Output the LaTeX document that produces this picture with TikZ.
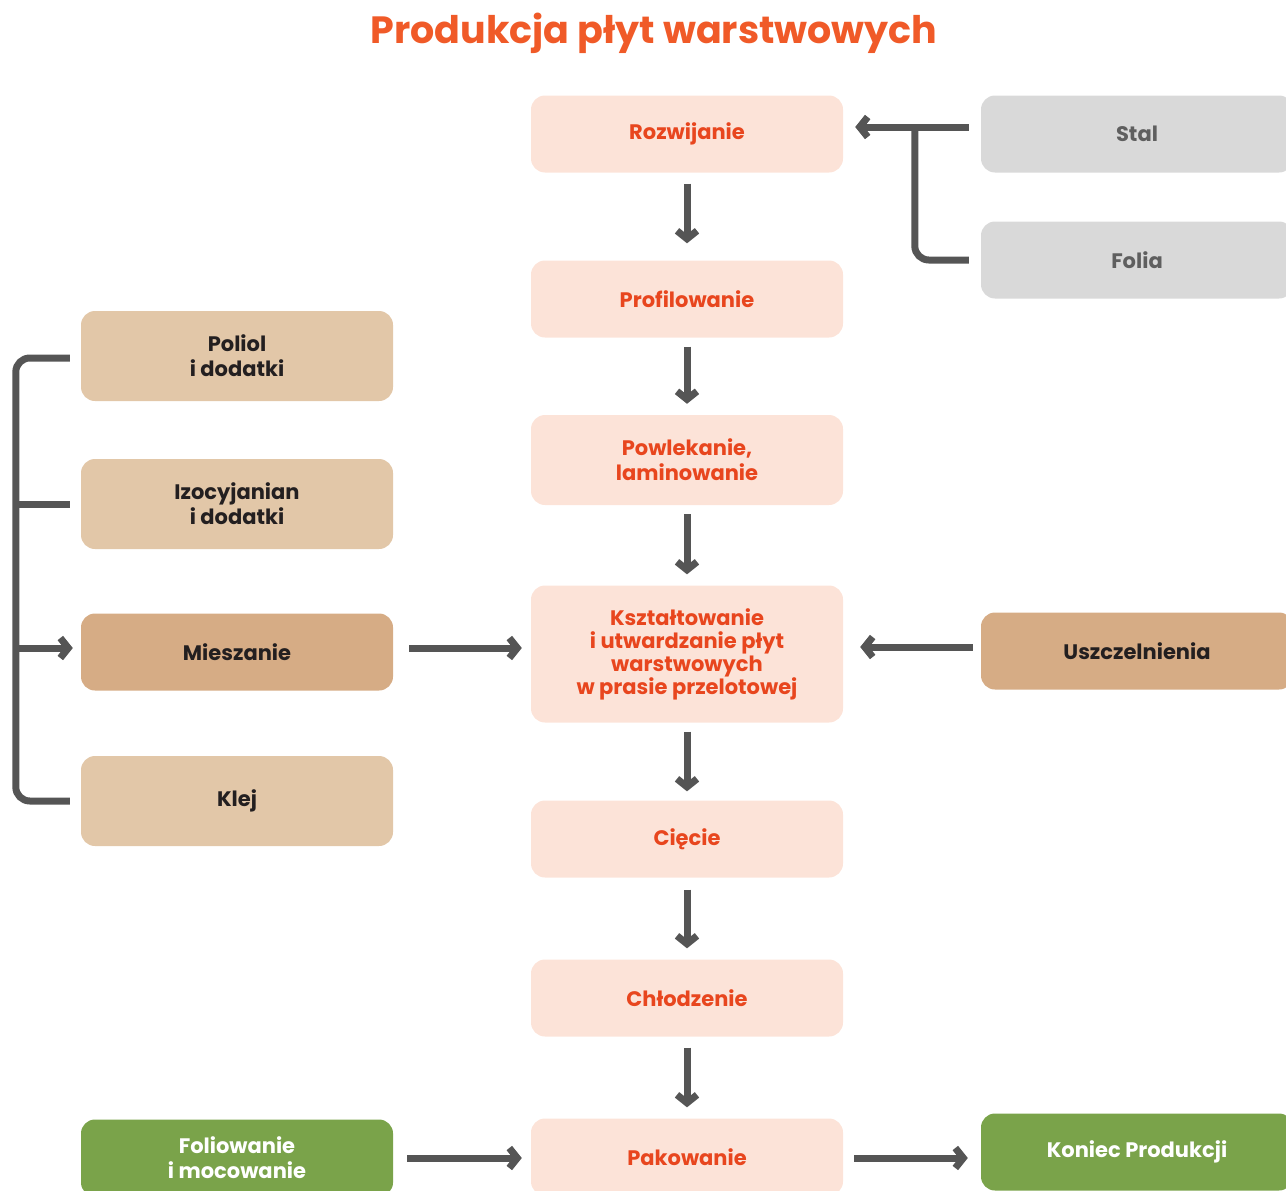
\documentclass[tikz,border=0pt]{standalone}
\usepackage{fontspec}
\setmainfont{Poppins}
\usetikzlibrary{arrows.meta}
\definecolor{titlered}{HTML}{F05A28}
\definecolor{flowred}{HTML}{E8461E}
\definecolor{peach}{HTML}{FCE3D8}
\definecolor{sand}{HTML}{E2C7A8}
\definecolor{tan}{HTML}{D6AC85}
\definecolor{ink}{HTML}{231F20}
\definecolor{lightgrey}{HTML}{D9D9D9}
\definecolor{midgrey}{HTML}{5F5F5F}
\definecolor{leaf}{HTML}{7AA34A}
\definecolor{arrowgrey}{HTML}{555555}

\begin{document}
\begin{tikzpicture}[x=1pt,y=-1pt,
  box/.style={rounded corners=14pt,minimum width=312pt,align=center,inner sep=0pt,font=\bfseries\fontsize{21}{25}\selectfont},
  stepbox/.style={box,fill=peach,text=flowred},
  rawbox/.style={box,fill=sand,text=ink},
  mixbox/.style={box,fill=tan,text=ink},
  greybox/.style={box,fill=lightgrey,text=midgrey},
  greenbox/.style={box,fill=leaf,text=white},
  link/.style={line width=7pt,draw=arrowgrey},
  flow/.style={link,-{Straight Barb[length=8pt,width=20pt]}}]
\useasboundingbox (0,0) rectangle (1286,1191);
\node[font=\bfseries\fontsize{38}{42}\selectfont,text=titlered] (title) at (654,33) {Produkcja płyt warstwowych};
\node[stepbox,minimum height=77pt] (roz) at (687,134) {Rozwijanie};
\node[stepbox,minimum height=77pt] (prof) at (687,299) {Profilowanie};
\node[stepbox,minimum height=90pt] (powl) at (687,460) {Powlekanie,\\laminowanie};
\node[stepbox,minimum height=137pt,font=\bfseries\fontsize{21}{23}\selectfont] (kszt) at (687,654) {Kształtowanie\\i utwardzanie płyt\\warstwowych\\w prasie przelotowej};
\node[stepbox,minimum height=77pt] (ciecie) at (687,839) {Cięcie};
\node[stepbox,minimum height=77pt] (chlodz) at (687,998) {Chłodzenie};
\node[stepbox,minimum height=77pt] (pak) at (687,1157) {Pakowanie};
\node[rawbox,minimum height=90pt] (poliol) at (237,356) {Poliol\\i dodatki};
\node[rawbox,minimum height=90pt] (izo) at (237,504) {Izocyjanian\\i dodatki};
\node[mixbox,minimum height=77pt] (mies) at (237,652) {Mieszanie};
\node[rawbox,minimum height=90pt] (klej) at (237,801) {Klej};
\node[greenbox,minimum height=77pt] (foliow) at (237,1158) {Foliowanie\\i mocowanie};
\node[greybox,minimum height=77pt] (stal) at (1137,134) {Stal};
\node[greybox,minimum height=77pt] (folia) at (1137,260) {Folia};
\node[mixbox,minimum height=77pt] (uszcz) at (1137,651) {Uszczelnienia};
\node[greenbox,minimum height=77pt] (koniec) at (1137,1152) {Koniec Produkcji};
\draw[flow,shorten <=11pt,shorten >=17pt] (roz) -- (prof);
\draw[flow,shorten <=9pt,shorten >=11pt] (prof) -- (powl);
\draw[flow,shorten <=9pt,shorten >=11pt] (powl) -- (kszt);
\draw[flow,shorten <=9pt,shorten >=9pt] (kszt) -- (ciecie);
\draw[flow,shorten <=12pt,shorten >=11pt] (ciecie) -- (chlodz);
\draw[flow,shorten <=11pt,shorten >=11pt] (chlodz) -- (pak);
\draw[flow,shorten <=16pt,shorten >=9pt] ([yshift=4pt]mies.east) -- ([yshift=4pt]mies.east -| kszt.west);
\draw[flow,shorten <=8pt,shorten >=17pt] ([yshift=4pt]uszcz.west) -- ([yshift=4pt]uszcz.west -| kszt.east);
\draw[flow,shorten <=14pt,shorten >=9pt] (foliow.east) -- (foliow.east -| pak.west);
\draw[flow,shorten <=11pt,shorten >=13pt] ([yshift=-1pt]pak.east) -- ([yshift=-1pt]pak.east -| koniec.west);
\draw[flow,shorten <=12pt,shorten >=12pt] ([yshift=7pt]stal.west) -- ([yshift=7pt]stal.west -| roz.east);
\draw[link,rounded corners=14pt] ([xshift=-12pt]folia.west) -| ([xshift=-66pt,yshift=10pt]stal.west);
\draw[link,rounded corners=14pt] ([xshift=-11pt,yshift=-2pt]poliol.west) -- ++(-54,0) |- ([xshift=-11pt]klej.west);
\draw[link] ([xshift=-11pt]izo.west) -- ++(-54,0);
\coordinate (spine) at (13,652);
\draw[flow,shorten >=8pt] ([yshift=4pt]spine |- mies.west) -- ([yshift=4pt]mies.west);
\end{tikzpicture}
\end{document}
